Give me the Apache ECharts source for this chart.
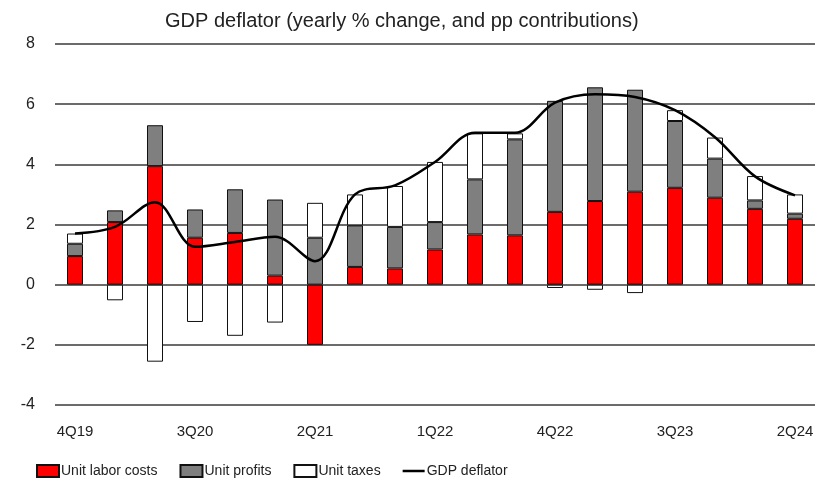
<!DOCTYPE html>
<html><head><meta charset="utf-8">
<script src="https://cdn.jsdelivr.net/npm/echarts@6/dist/echarts.min.js"></script>
<style>html,body{margin:0;padding:0;background:#fff}#c{width:825px;height:485px}</style>
</head><body><div id="c"></div>
<script>
var categories = ['4Q19','1Q20','2Q20','3Q20','4Q20','1Q21','2Q21','3Q21','4Q21','1Q22','2Q22','3Q22','4Q22','1Q23','2Q23','3Q23','4Q23','1Q24','2Q24'];
var unitLaborCosts = [0.95, 2.08, 3.94, 1.56, 1.72, 0.30, -2.00, 0.59, 0.54, 1.17, 1.67, 1.64, 2.42, 2.78, 3.09, 3.22, 2.89, 2.52, 2.19];
var unitProfits    = [0.41, 0.39, 1.36, 0.94, 1.45, 2.53, 1.56, 1.38, 1.38, 0.91, 1.83, 3.19, 3.69, 3.78, 3.39, 2.22, 1.30, 0.28, 0.17];
var unitTaxes      = [0.34, -0.52, -2.56, -1.24, -1.70, -1.26, 1.16, 1.03, 1.36, 2.00, 1.53, 0.20, -0.11, -0.17, -0.28, 0.36, 0.70, 0.81, 0.64];
var gdpDeflator    = [1.70, 1.92, 2.74, 1.26, 1.42, 1.59, 0.78, 3.00, 3.30, 4.08, 5.05, 5.05, 6.05, 6.33, 6.24, 5.80, 4.90, 3.60, 2.97];
var yTicks = {min: -4, max: 8, interval: 2};

var font = "'Liberation Sans', Arial, sans-serif";
var chart = echarts.init(document.getElementById('c'), null, {renderer: 'canvas'});
function barSeries(name, data, color) {
  return {
    name: name, type: 'bar', stack: 'total', data: data, barWidth: 16,
    itemStyle: {color: color, borderColor: '#111', borderWidth: 1},
    emphasis: {disabled: true}
  };
}
chart.setOption({
  animation: false,
  title: {
    text: 'GDP deflator (yearly % change, and pp contributions)',
    left: 160, top: 6,
    textStyle: {fontFamily: font, fontSize: 20, fontWeight: 'normal', color: '#222'}
  },
  legend: {
    left: 31, top: 459, itemWidth: 22, itemHeight: 12, itemGap: 22,
    symbolKeepAspect: true,
    textStyle: {fontFamily: font, fontSize: 14, color: '#222', padding: [0, 0, 0, -3]},
    data: [
      {name: 'Unit labor costs', icon: 'rect'},
      {name: 'Unit profits', icon: 'rect'},
      {name: 'Unit taxes', icon: 'rect'},
      {name: 'GDP deflator', icon: 'path://M0 0H44V5H0Z', itemStyle: {color: '#000', borderWidth: 0}}
    ]
  },
  grid: {left: 55, right: 10, top: 44, bottom: 80},
  xAxis: {
    type: 'category', data: categories,
    axisLine: {show: false}, axisTick: {show: false},
    axisLabel: {interval: 2, margin: 19, fontFamily: font, fontSize: 15, color: '#222'}
  },
  yAxis: {
    type: 'value', min: yTicks.min, max: yTicks.max, interval: yTicks.interval,
    axisLine: {show: false}, axisTick: {show: false},
    axisLabel: {margin: 20, fontFamily: font, fontSize: 16, color: '#222'},
    splitLine: {lineStyle: {color: '#3a3a3a', width: 1.6}}
  },
  series: [
    barSeries('Unit labor costs', unitLaborCosts, '#ff0000'),
    barSeries('Unit profits', unitProfits, '#7f7f7f'),
    barSeries('Unit taxes', unitTaxes, '#ffffff'),
    {
      name: 'GDP deflator', type: 'line', data: gdpDeflator, smooth: 0.35,
      showSymbol: false, symbol: 'none',
      lineStyle: {color: '#000', width: 2.5},
      itemStyle: {color: '#000'}, z: 5
    }
  ]
});
</script></body></html>
